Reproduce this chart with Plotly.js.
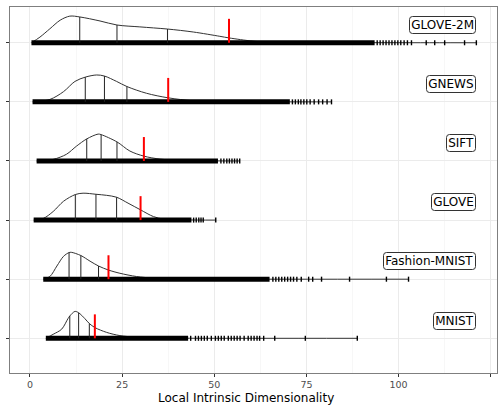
<!DOCTYPE html>
<html>
<head>
<meta charset="utf-8">
<script src="https://cdn.plot.ly/plotly-3.0.1.min.js"></script>
<style>
  html, body { margin: 0; padding: 0; background: #fff; }
  #chart { width: 499px; height: 405px; }
</style>
</head>
<body>
<div id="chart"></div>
<script>
// ---------- data ----------
const categories = ['MNIST', 'Fashion-MNIST', 'GLOVE', 'SIFT', 'GNEWS', 'GLOVE-2M'];
const xTickVals = [0, 25, 50, 75, 100, 125];
const xTickText = ['0', '25', '50', '75', '100', '125'];

// relative density (peak = 1) sampled along x
const mnistDensX = [4.3, 6.3, 8.6, 10.3, 10.8, 12.2, 13.2, 14.9, 16.1, 17.6, 20.8, 24.4, 28.9, 33.5, 45, 88.8];
const mnistDensY = [0, 0.15, 0.34, 0.73, 0.83, 1.0, 0.95, 0.73, 0.55, 0.40, 0.22, 0.10, 0.04, 0.01, 0.002, 0];
const fashionDensX = [3.6, 5.4, 7.3, 9.1, 10.6, 11.2, 13.8, 16.3, 18.6, 21.3, 24.4, 28.9, 33.5, 38.8, 50, 102.7];
const fashionDensY = [0, 0.10, 0.49, 0.85, 0.99, 1.0, 0.88, 0.67, 0.49, 0.34, 0.22, 0.10, 0.04, 0.01, 0.002, 0];
const gloveDensX = [1.0, 3.6, 6.3, 9.1, 12.3, 14.4, 17.9, 20.8, 23.5, 26.6, 30.0, 33.5, 36.2, 38.8, 42.5, 50.4];
const gloveDensY = [0, 0.06, 0.32, 0.70, 0.95, 1.0, 0.96, 0.92, 0.85, 0.63, 0.38, 0.13, 0.04, 0.05, 0.01, 0];
const siftDensX = [1.8, 6.3, 9.9, 12.6, 15.4, 18.5, 19.3, 23.6, 27.1, 30.9, 35.3, 40.6, 44.3, 56.9];
const siftDensY = [0, 0.06, 0.25, 0.55, 0.82, 1.0, 0.98, 0.71, 0.37, 0.18, 0.07, 0.025, 0.01, 0];
const gnewsDensX = [0.7, 5.4, 9.1, 12.2, 15.0, 18.1, 20.2, 23.5, 26.3, 31.6, 37.5, 44.3, 51.5, 60, 81.8];
const gnewsDensY = [0, 0.09, 0.38, 0.76, 0.92, 1.0, 0.96, 0.76, 0.57, 0.32, 0.15, 0.04, 0.01, 0.002, 0];
const glove2mDensX = [0.4, 2.7, 5.4, 8.2, 10.8, 13.5, 19.0, 23.6, 29.8, 37.3, 44.3, 51.5, 54.0, 60.5, 66.5, 80, 100, 121.1];
const glove2mDensY = [0, 0.21, 0.52, 0.84, 0.99, 0.96, 0.81, 0.66, 0.59, 0.51, 0.40, 0.24, 0.18, 0.06, 0.01, 0.005, 0.002, 0];

// quartiles (25/50/75 %) and the red marker value
const mnistQuartiles = [10.8, 13.2, 16.1];
const fashionQuartiles = [10.6, 13.8, 18.6];
const gloveQuartiles = [12.3, 17.9, 23.5];
const siftQuartiles = [15.4, 19.3, 23.6];
const gnewsQuartiles = [15.0, 20.2, 26.3];
const glove2mQuartiles = [13.5, 23.6, 37.3];
const redValues = [17.6, 21.3, 30.0, 30.9, 37.5, 54.0];

// rug: solid (dense) stretch and individual sparse points
const mnistRugDense = [4.3, 42.9];
const mnistRugPoints = [43.6, 44.9, 45.7, 46.5, 47.3, 48.1, 49.2, 50.3, 51.1, 51.9, 52.7, 53.8, 54.6, 55.4, 56.2, 57.0, 58.1, 59.2, 60.0, 60.8, 61.6, 62.3, 63.4, 66.4, 74.7, 88.8];
const fashionRugDense = [3.6, 65.0];
const fashionRugPoints = [65.9, 66.7, 67.5, 68.3, 69.1, 69.9, 70.7, 71.5, 72.4, 73.6, 75.6, 76.7, 79.1, 86.7, 96.7, 102.7];
const gloveRugDense = [1.0, 43.8];
const gloveRugPoints = [44.4, 45.1, 45.8, 46.4, 47.0, 50.4];
const siftRugDense = [1.8, 51.0];
const siftRugPoints = [51.8, 52.6, 53.4, 54.1, 54.8, 55.5, 56.2, 56.9];
const gnewsRugDense = [0.7, 70.5];
const gnewsRugPoints = [71.2, 72.0, 72.8, 73.5, 74.3, 75.1, 76.0, 77.1, 78.3, 79.4, 80.6, 81.8];
const glove2mRugDense = [0.4, 93.5];
const glove2mRugPoints = [94.2, 95.0, 95.8, 96.6, 97.4, 98.2, 99.0, 99.8, 100.6, 101.5, 102.4, 103.5, 107.5, 109.8, 112.5, 117.9, 121.1];

// ---------- build ----------
const ridges = [
  {dx: mnistDensX, dy: mnistDensY, q: mnistQuartiles, rd: mnistRugDense, rp: mnistRugPoints},
  {dx: fashionDensX, dy: fashionDensY, q: fashionQuartiles, rd: fashionRugDense, rp: fashionRugPoints},
  {dx: gloveDensX, dy: gloveDensY, q: gloveQuartiles, rd: gloveRugDense, rp: gloveRugPoints},
  {dx: siftDensX, dy: siftDensY, q: siftQuartiles, rd: siftRugDense, rp: siftRugPoints},
  {dx: gnewsDensX, dy: gnewsDensY, q: gnewsQuartiles, rd: gnewsRugDense, rp: gnewsRugPoints},
  {dx: glove2mDensX, dy: glove2mDensY, q: glove2mQuartiles, rd: glove2mRugDense, rp: glove2mRugPoints}
];

const RIDGE_H = 0.455;   // peak height in category units
const RED_H = 0.405;

function interp(xs, ys, x) {
  for (let i = 0; i < xs.length - 1; i++) {
    if (x >= xs[i] && x <= xs[i + 1]) {
      const t = (x - xs[i]) / (xs[i + 1] - xs[i]);
      return ys[i] + t * (ys[i + 1] - ys[i]);
    }
  }
  return 0;
}

const traces = [];
ridges.forEach((r, i) => {
  const base = i + 1;
  // density outline (drawn first so the rug sits on top of the baseline part)
  traces.push({
    type: 'scatter', mode: 'lines', x: r.dx, y: r.dy.map(d => base + d * RIDGE_H),
    line: {color: '#333', width: 1, shape: 'spline', smoothing: 0.9},
    hoverinfo: 'skip', showlegend: false
  });
  // rug dense stretch
  traces.push({
    type: 'scatter', mode: 'lines', x: r.rd, y: [base, base],
    line: {color: '#000', width: 5}, hoverinfo: 'skip', showlegend: false
  });
  // rug sparse points
  traces.push({
    type: 'scatter', mode: 'markers', x: r.rp, y: r.rp.map(() => base),
    marker: {symbol: 'line-ns', size: 3.6, line: {color: '#000', width: 1.4}},
    hoverinfo: 'skip', showlegend: false
  });
  // quartile lines
  const qx = [], qy = [];
  r.q.forEach(v => {
    qx.push(v, v, null);
    qy.push(base, base + interp(r.dx, r.dy, v) * RIDGE_H, null);
  });
  traces.push({
    type: 'scatter', mode: 'lines', x: qx, y: qy,
    line: {color: '#222', width: 1}, hoverinfo: 'skip', showlegend: false
  });
  // red marker
  traces.push({
    type: 'scatter', mode: 'lines', x: [redValues[i], redValues[i]], y: [base, base + RED_H],
    line: {color: '#FF0000', width: 2}, hoverinfo: 'skip', showlegend: false
  });
});

const annotations = categories.map((c, i) => ({
  text: c, xref: 'paper', yref: 'y', x: 0.956, y: i + 1.3,
  xanchor: 'right', yanchor: 'middle', showarrow: false,
  font: {family: 'DejaVu Sans', size: 12, color: '#000'},
  bgcolor: '#fff', bordercolor: '#333', borderwidth: 1, borderpad: 1.2
}));
annotations.push({
  text: 'Local Intrinsic Dimensionality', xref: 'paper', yref: 'paper',
  x: 0.4855, y: 0, yshift: -25, xanchor: 'center', yanchor: 'middle', showarrow: false,
  font: {family: 'DejaVu Sans', size: 12, color: '#000'}
});

const layout = {
  width: 499, height: 405,
  margin: {l: 10, r: 2, t: 7, b: 32, pad: 0},
  paper_bgcolor: '#fff', plot_bgcolor: '#fff',
  font: {family: 'DejaVu Sans', color: '#4D4D4D'},
  showlegend: false,
  xaxis: {
    range: [-5.42, 126.7], tickvals: xTickVals, ticktext: xTickText,
    ticks: 'outside', ticklen: 3, tickcolor: '#333', tickwidth: 1,
    tickfont: {size: 9.5, color: '#4D4D4D'},
    showgrid: true, gridcolor: '#EBEBEB', gridwidth: 1,
    minor: {dtick: 12.5, tick0: 12.5, showgrid: true, gridcolor: '#F4F4F4', gridwidth: 0.7, ticks: ''},
    zeroline: false, showline: true, mirror: true, linecolor: '#7F7F7F', linewidth: 1,
    automargin: false, fixedrange: true
  },
  yaxis: {
    range: [0.413, 6.605], tickvals: [1, 2, 3, 4, 5, 6], ticktext: ['', '', '', '', '', ''],
    ticks: 'outside', ticklen: 3, tickcolor: '#333', tickwidth: 1,
    showgrid: true, gridcolor: '#EBEBEB', gridwidth: 1,
    zeroline: false, showline: true, mirror: true, linecolor: '#7F7F7F', linewidth: 1,
    automargin: false, fixedrange: true
  },
  annotations: annotations
};

Plotly.newPlot('chart', traces, layout, {staticPlot: true, displayModeBar: false}).then(() => {
  document.querySelectorAll('.annotation rect.bg').forEach(rc => {
    rc.setAttribute('rx', 3); rc.setAttribute('ry', 3);
  });
});
</script>
</body>
</html>
